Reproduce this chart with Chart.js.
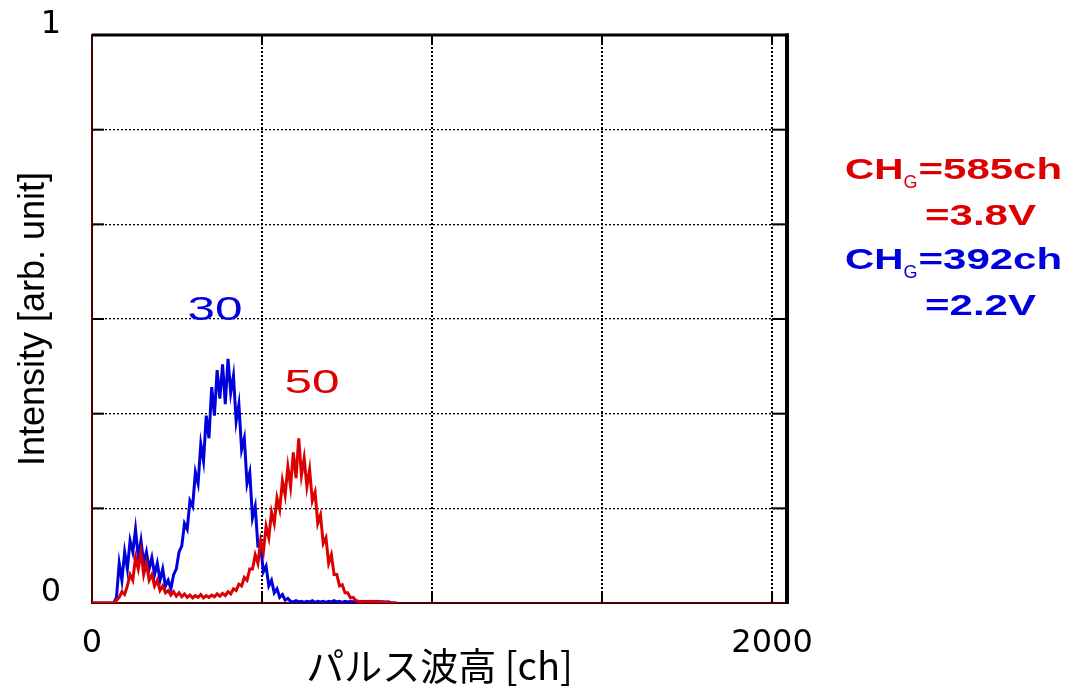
<!DOCTYPE html>
<html>
<head>
<meta charset="utf-8">
<script src="https://cdn.jsdelivr.net/npm/chart.js@4.4.1/dist/chart.umd.min.js"></script>
<style>
  html, body { margin: 0; padding: 0; background: #fff; }
  #wrap { width: 1078px; height: 694px; }
</style>
</head>
<body>
<div id="wrap"><canvas id="chart" width="1078" height="694"></canvas></div>
<script>
// spectrum sampled every 8 ch (0 .. 896 ch)
const channels = Array.from({length: 113}, (_, i) => i * 8);

// gain 30 (blue)
const blue30 = [
  0, 0, 0, 0, 0, 0, 0, 0, 0,
  0.01, 0.07, 0.04, 0.09, 0.06, 0.11, 0.09, 0.13, 0.08, 0.11,
  0.07, 0.09, 0.06, 0.08, 0.05, 0.07, 0.04, 0.06, 0.03, 0.04,
  0.025, 0.05, 0.06, 0.09, 0.10, 0.14, 0.13, 0.18, 0.17, 0.23,
  0.21, 0.28, 0.25, 0.33, 0.29, 0.38, 0.33, 0.41, 0.36, 0.42,
  0.35, 0.43, 0.37, 0.40, 0.32, 0.35, 0.27, 0.29, 0.21, 0.23,
  0.15, 0.17, 0.10, 0.10, 0.055, 0.065, 0.03, 0.04, 0.018, 0.025,
  0.01, 0.015, 0.005, 0.008, 0.003,
  0.002, 0.004, 0.002, 0.003, 0.001, 0.003, 0.002, 0.004, 0.001, 0.003,
  0.002, 0.003, 0.001, 0.003, 0.002, 0.004, 0.002, 0.003, 0.001, 0.003,
  0.002, 0.003, 0.002, 0.004, 0.001, 0.003, 0.002, 0.003, 0.001, 0.003,
  0.002, 0.003, 0.002, 0.002, 0.001, 0.002,
  0, 0, 0
];

// gain 50 (red)
const red50 = [
  0, 0, 0, 0, 0, 0, 0, 0, 0,
  0.005, 0.01, 0.02, 0.015, 0.03, 0.05, 0.04, 0.08, 0.06, 0.09,
  0.05, 0.07, 0.04, 0.05, 0.03, 0.04, 0.022, 0.03, 0.018, 0.022,
  0.014, 0.02, 0.012, 0.018, 0.011, 0.016, 0.01, 0.014, 0.009, 0.013,
  0.01, 0.015, 0.009, 0.013, 0.01, 0.014, 0.011, 0.016, 0.012, 0.017,
  0.013, 0.02, 0.016, 0.025, 0.022, 0.033, 0.03, 0.045, 0.04, 0.06,
  0.06, 0.085, 0.07, 0.11, 0.09, 0.135, 0.115, 0.16, 0.14, 0.185,
  0.165, 0.215, 0.19, 0.24, 0.205, 0.265, 0.22, 0.29, 0.225, 0.255,
  0.205, 0.235, 0.18, 0.195, 0.14, 0.155, 0.105, 0.115, 0.07, 0.085,
  0.05, 0.05, 0.03, 0.032, 0.018, 0.018, 0.009, 0.01, 0.004,
  0.003, 0.002, 0.003, 0.002, 0.003, 0.002, 0.003, 0.002, 0.002, 0.001, 0.002,
  0, 0, 0, 0
];

const xGrid = [0, 500, 1000, 1500, 2000];
const xTickLabels = {0: '0', 2000: '2000'};
const yGrid = [0, 1 / 6, 2 / 6, 3 / 6, 4 / 6, 5 / 6, 1];
const yTickLabels = ['0', '', '', '', '', '', '1'];

const gainLabels = ['30', '50'];
const gateCh = ['585', '392'];
const gateVolt = ['3.8', '2.2'];

const BLUE = '#0000dd';
const RED = '#dd0000';
const AXIS = '#4a0000';

function pts(vals) {
  return vals.map((v, i) => ({x: channels[i], y: v}));
}

function wideText(ctx, text, x, y, size, sx, color, weight, align) {
  ctx.save();
  ctx.font = (weight || 'normal') + ' ' + size + 'px "Liberation Sans", Arial, sans-serif';
  ctx.fillStyle = color;
  ctx.textBaseline = 'alphabetic';
  ctx.textAlign = 'left';
  const w = ctx.measureText(text).width * sx;
  const x0 = align === 'center' ? x - w / 2 : x;
  ctx.translate(x0, y);
  ctx.scale(sx, 1);
  ctx.fillText(text, 0, 0);
  ctx.restore();
  return x0 + w;
}

const framePlugin = {
  id: 'frame',
  afterDraw(chart) {
    const {ctx, chartArea: a, scales: {x, y}} = chart;
    const seg = (x1, y1, x2, y2) => { ctx.beginPath(); ctx.moveTo(x1, y1); ctx.lineTo(x2, y2); ctx.stroke(); };
    ctx.save();
    ctx.strokeStyle = '#000';
    ctx.lineWidth = 3;
    seg(a.left, a.top, a.right + 2, a.top);
    ctx.lineWidth = 4;
    seg(a.right, a.top - 1.5, a.right, a.bottom + 1);
    ctx.lineWidth = 2;
    const xEnd = x.getPixelForValue(2000);
    x.ticks.forEach(t => {
      const px = x.getPixelForValue(t.value);
      if (px <= a.left + 1) return;
      seg(px, a.top, px, a.top + 10);
      seg(px, a.bottom - 12, px, a.bottom);
    });
    y.ticks.forEach(t => {
      if (t.value <= 0 || t.value >= 1) return;
      const py = y.getPixelForValue(t.value);
      seg(a.left, py, a.left + 12, py);
      seg(xEnd, py, a.right, py);
    });
    ctx.restore();

    // peak labels
    wideText(ctx, gainLabels[0], x.getPixelForValue(362), y.getPixelForValue(0.52) + 12, 33, 1.5, BLUE, 'normal', 'center');
    wideText(ctx, gainLabels[1], x.getPixelForValue(647), y.getPixelForValue(0.39) + 12, 33, 1.5, RED, 'normal', 'center');

    // gate info on the right
    const left = a.right + 58;
    const rows = [{c: RED, top: 179}, {c: BLUE, top: 269}];
    rows.forEach((r, i) => {
      let cx = wideText(ctx, 'CH', left, r.top, 30, 1.35, r.c, 'bold');
      cx = wideText(ctx, 'G', cx, r.top + 9, 18, 1.0, r.c, 'normal');
      wideText(ctx, '=' + gateCh[i] + 'ch', cx + 1, r.top, 30, 1.4, r.c, 'bold');
      wideText(ctx, '=' + gateVolt[i] + 'V', left + 80, r.top + 46, 30, 1.4, r.c, 'bold');
    });
  }
};

new Chart(document.getElementById('chart'), {
  type: 'line',
  data: {
    datasets: [
      {label: '50', data: pts(red50), borderColor: RED, borderWidth: 3, pointRadius: 0, tension: 0, order: 0},
      {label: '30', data: pts(blue30), borderColor: BLUE, borderWidth: 3, pointRadius: 0, tension: 0, order: 1}
    ]
  },
  options: {
    responsive: false,
    animation: false,
    events: [],
    layout: {padding: {top: 35, right: 291, left: 0, bottom: 0}},
    plugins: {legend: {display: false}, tooltip: {enabled: false}},
    scales: {
      x: {
        type: 'linear',
        min: 0,
        max: 2044,
        afterBuildTicks: s => { s.ticks = xGrid.map(v => ({value: v})); },
        afterFit: s => { s.height = 91; s.paddingLeft = 0; s.paddingRight = 0; },
        grid: {color: '#000', lineWidth: 2, drawTicks: false},
        border: {color: AXIS, width: 2, dash: [2, 2]},
        ticks: {
          padding: 21,
          color: '#000',
          maxRotation: 0,
          autoSkip: false,
          font: {family: '"DejaVu Sans", sans-serif', size: 32},
          callback: v => xTickLabels[v] || ''
        },
        title: {
          display: true,
          text: 'パルス波高 [ch]',
          color: '#000',
          font: {family: '"Noto Sans CJK JP", sans-serif', size: 38},
          padding: {top: 0, bottom: 6}
        }
      },
      y: {
        min: 0,
        max: 1,
        afterBuildTicks: s => { s.ticks = yGrid.map(v => ({value: v})); },
        afterFit: s => { s.width = 92; s.paddingTop = 0; s.paddingBottom = 0; },
        grid: {color: '#000', lineWidth: 1.3, drawTicks: false},
        border: {color: AXIS, width: 2, dash: [2, 2]},
        ticks: {
          padding: 31,
          labelOffset: -10,
          color: '#000',
          autoSkip: false,
          font: {family: '"DejaVu Sans", sans-serif', size: 32},
          callback: (v, i) => yTickLabels[i]
        },
        title: {
          display: true,
          text: 'Intensity [arb. unit]',
          color: '#000',
          font: {family: '"Liberation Sans", Arial, sans-serif', size: 36},
          padding: {top: 12, bottom: 0}
        }
      }
    }
  },
  plugins: [framePlugin]
});
</script>
</body>
</html>
